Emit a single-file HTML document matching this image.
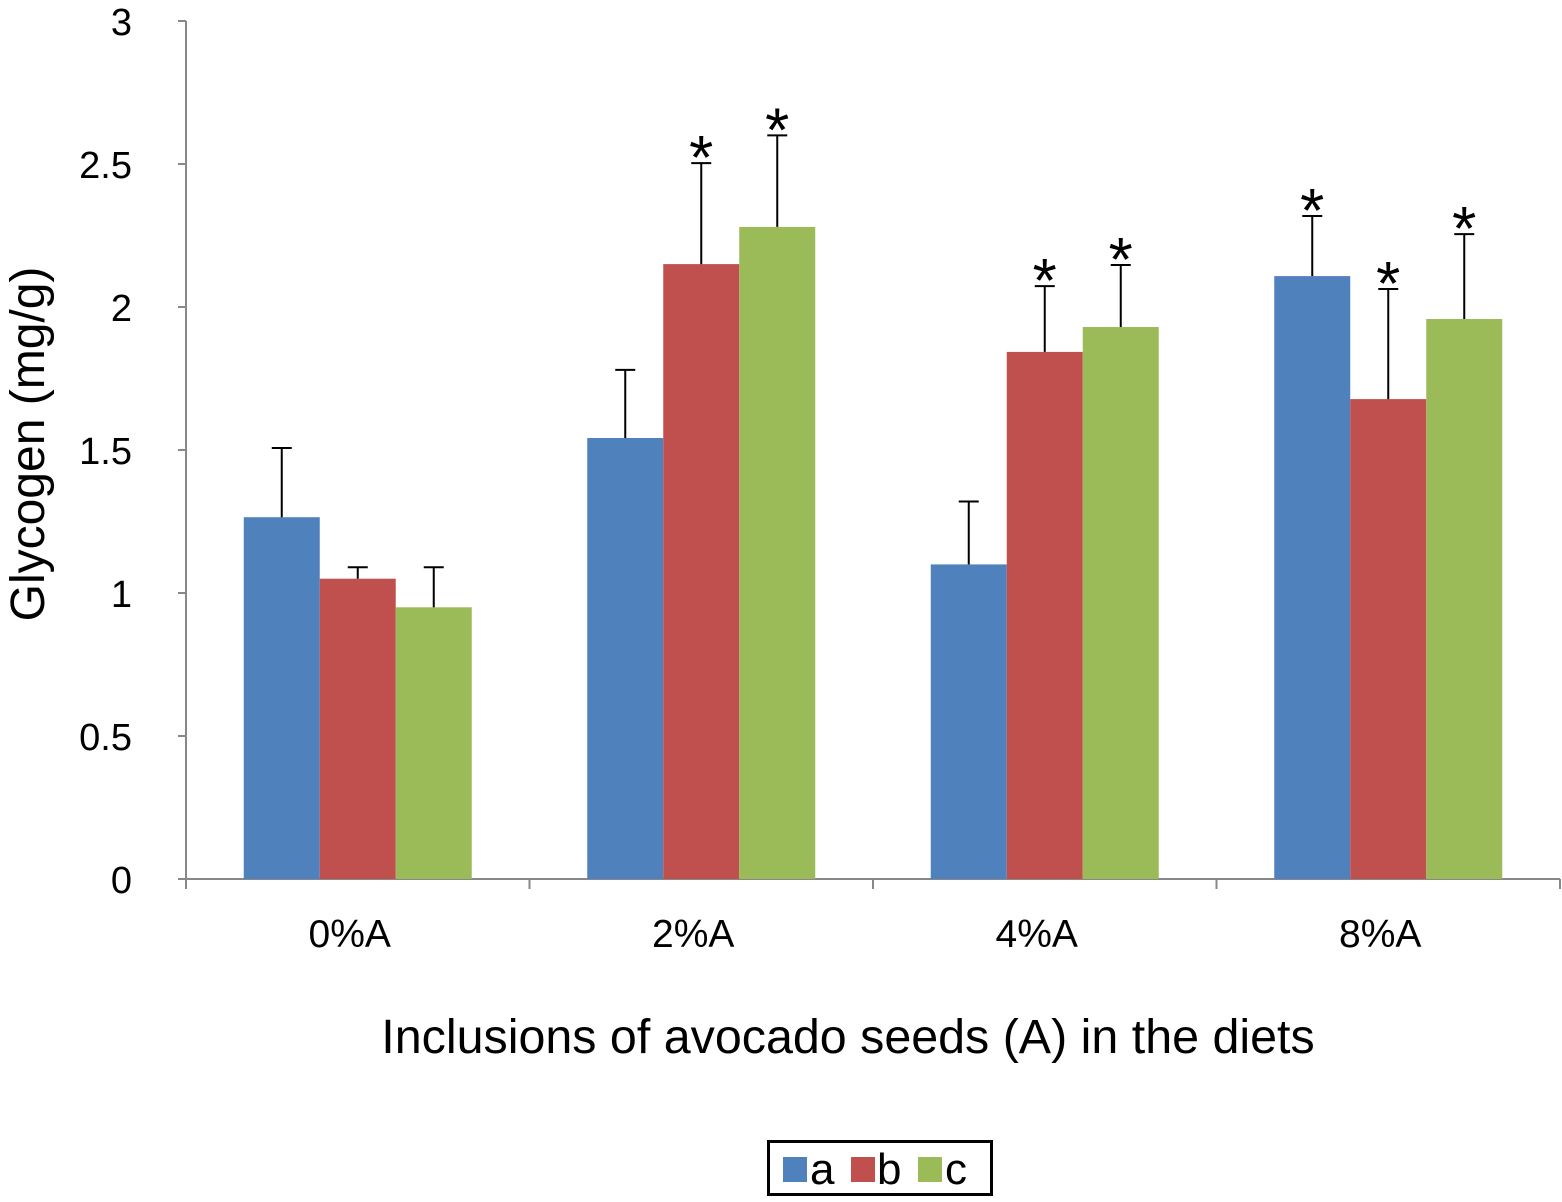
<!DOCTYPE html>
<html><head><meta charset="utf-8"><style>
body{margin:0;background:#fff;}
svg text{font-family:"Liberation Sans",Arial,sans-serif;}
</style></head><body>
<svg width="1562" height="1197" viewBox="0 0 1562 1197">
<g id="axes"></g><g id="bars"></g><g id="errs"></g>
<text x="848" y="1053" font-size="48.4" text-anchor="middle">Inclusions of avocado seeds (A) in the diets</text>
<text transform="translate(44,444) rotate(-90)" font-size="48" text-anchor="middle">Glycogen (mg/g)</text>
<g>
<rect x="768.5" y="1141.5" width="223" height="53" fill="#fff" stroke="#000" stroke-width="3"/>
<rect x="783" y="1157" width="24" height="25" fill="#4f81bd"/>
<text x="810" y="1184" font-size="44">a</text>
<rect x="851" y="1157" width="24" height="25" fill="#c0504d"/>
<text x="877" y="1184" font-size="44">b</text>
<rect x="918" y="1157" width="24" height="25" fill="#9bbb59"/>
<text x="945" y="1184" font-size="44">c</text>
</g>
</svg>
<script>
const categories=["0%A","2%A","4%A","8%A"];
const seriesA=[1.265,1.542,1.10,2.108];
const seriesB=[1.05,2.15,1.843,1.678];
const seriesC=[0.95,2.28,1.93,1.958];
const errA=[0.242,0.238,0.22,0.21];
const errB=[0.04,0.353,0.23,0.385];
const errC=[0.14,0.32,0.217,0.297];
const starA=[false,false,false,true];
const starB=[false,true,true,true];
const starC=[false,true,true,true];
const yTicks=[0,0.5,1,1.5,2,2.5,3];
const yTickLabels=["0","0.5","1","1.5","2","2.5","3"];
const NS="http://www.w3.org/2000/svg";
const X0=186,X1=1560,Y0=879,PX=286;
const cw=(X1-X0)/categories.length, bw=76;
const y=v=>Y0-v*PX;
function mk(tag,attrs,parent,txt){const e=document.createElementNS(NS,tag);for(const k in attrs)e.setAttribute(k,attrs[k]);if(txt!==undefined)e.textContent=txt;document.getElementById(parent).appendChild(e);return e;}
let e=mk("line",{x1:X0,y1:y(3),x2:X0,y2:Y0,stroke:"#888","stroke-width":2},"axes");


e=mk("line",{x1:X0,y1:Y0,x2:X1,y2:Y0,stroke:"#888","stroke-width":2},"axes");


yTicks.forEach((t,i)=>{
 let l=mk("line",{x1:X0-8,y1:y(t),x2:X0,y2:y(t),stroke:"#888","stroke-width":2},"axes");
 
 
 let tx=mk("text",{x:132,y:y(t)+14,"font-size":38,"text-anchor":"end"},"axes",yTickLabels[i]);
 
 
});
for(let i=0;i<=categories.length;i++){
 let l=mk("line",{x1:X0+i*cw,y1:Y0,x2:X0+i*cw,y2:Y0+10,stroke:"#888","stroke-width":2},"axes");
 
 
}
categories.forEach((c,i)=>{
 let tx=mk("text",{x:X0+(i+0.5)*cw-8,y:947,"font-size":39,"text-anchor":"middle"},"axes",c);
 
 
});
const series=[[seriesA,errA,starA,"#4f81bd","a"],[seriesB,errB,starB,"#c0504d","b"],[seriesC,errC,starC,"#9bbb59","c"]];
categories.forEach((c,i)=>{
 const cx=X0+(i+0.5)*cw;
 series.forEach((s,j)=>{
  const v=s[0][i],er=s[1][i];
  const bx=cx-1.5*bw+j*bw, mx=bx+bw/2;
  let r=mk("rect",{x:bx,y:y(v),width:bw,height:Y0-y(v),fill:s[3]},"bars");
  
  
  let l=mk("line",{x1:mx,y1:y(v),x2:mx,y2:y(v+er),stroke:"#000","stroke-width":2},"errs");
  
  
  let cp=mk("line",{x1:mx-10,y1:y(v+er),x2:mx+10,y2:y(v+er),stroke:"#000","stroke-width":2},"errs");
  
  
  if(s[2][i]){
   let st=mk("text",{x:mx,y:y(v+er)+16,"font-size":62,"text-anchor":"middle","font-family":"Liberation Serif, serif"},"errs","*");
   
   
  }
 });
});
</script>
</body></html>
